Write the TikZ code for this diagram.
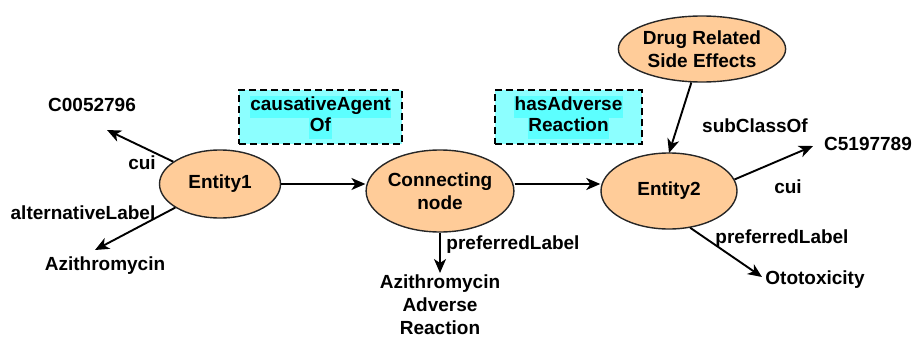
\documentclass[tikz,border=0pt]{standalone}
\usepackage{fontspec}
\setmainfont{Liberation Sans}
\usetikzlibrary{shapes.geometric,arrows.meta}
\definecolor{peach}{HTML}{FFCC99}
\definecolor{boxcyan}{HTML}{8CFFFF}
\definecolor{hlcyan}{HTML}{5CFFFF}
\newcommand\hlline[1]{{\setlength{\fboxsep}{0.5pt}\colorbox{hlcyan}{\strut #1}}}
\begin{document}
\begin{tikzpicture}[x=1pt,y=-1pt,
  every node/.style={font=\fontsize{19}{23}\selectfont\bfseries},
  ent/.style={ellipse,draw=black!85,line width=1.4pt,fill=peach,inner sep=0pt,align=center},
  relbox/.style={draw=black,dash pattern=on 7pt off 4pt,line width=2pt,fill=boxcyan,
    align=center,inner sep=0pt,font=\fontsize{19}{21}\selectfont\bfseries},
  lab/.style={inner sep=0pt,align=center},
  arr/.style={line width=1.9pt,-{Stealth[length=14pt,width=12pt,inset=4pt]}}
]
\useasboundingbox (0,0) rectangle (916,340);
% main nodes
\node[ent,minimum width=121pt,minimum height=68pt] (e1) at (220,184) {Entity1};
\node[ent,minimum width=135pt,minimum height=82pt] (c) at (440,191) {Connecting\\node};
\node[ent,minimum width=136pt,minimum height=76pt] (e2) at (669,191) {Entity2};
\node[ent,minimum width=148pt,minimum height=66pt] (d) at (702,49) {Drug Related\\Side Effects};
% relation boxes
\node[relbox,minimum width=163pt,minimum height=54pt] (r1) at (320.5,117)
  {\hlline{causativeAgent}\\[-2pt]\hlline{Of}};
\node[relbox,minimum width=147pt,minimum height=54pt] (r2) at (568.5,117)
  {\hlline{hasAdverse}\\[-2pt]\hlline{Reaction}};
% value texts
\node[lab] (t1) at (92,105) {C0052796};
\node[lab] (t2) at (105,266) {Azithromycin};
\node[lab] (t3) at (440,305) {Azithromycin\\Adverse\\Reaction};
\node[lab] (t4) at (868,144) {C5197789};
\node[lab] (t5) at (815,280) {Ototoxicity};
% edge labels
\node[lab] (l1) at (142,163) {cui};
\node[lab] (l2) at (83,213) {alternativeLabel};
\node[lab] (l3) at (513,245) {preferredLabel};
\node[lab] (l4) at (755,126) {subClassOf};
\node[lab] (l5) at (788,187) {cui};
\node[lab] (l6) at (782,239) {preferredLabel};
% arrow tips
\coordinate (p1) at (107,130);
\coordinate (p2) at (95,250);
\coordinate (p3) at (440,273);
\coordinate (p4) at (669,153);
\coordinate (p5) at (813,146);
\coordinate (p6) at (762,277);
% connectors
\draw[arr] (e1) -- (p1);
\draw[arr] (e1) -- (p2);
\draw[arr] (e1.east) -- (e1.east -| c.west);
\draw[arr] ([yshift=7pt]c.east) -- ([yshift=7pt]c.east -| e2.west);
\draw[arr] (c.south) -- (p3);
\draw[arr] (d) -- (p4);
\draw[arr] (e2.10) -- (p5);
\draw[arr] (e2.-60) -- (p6);
\end{tikzpicture}
\end{document}
